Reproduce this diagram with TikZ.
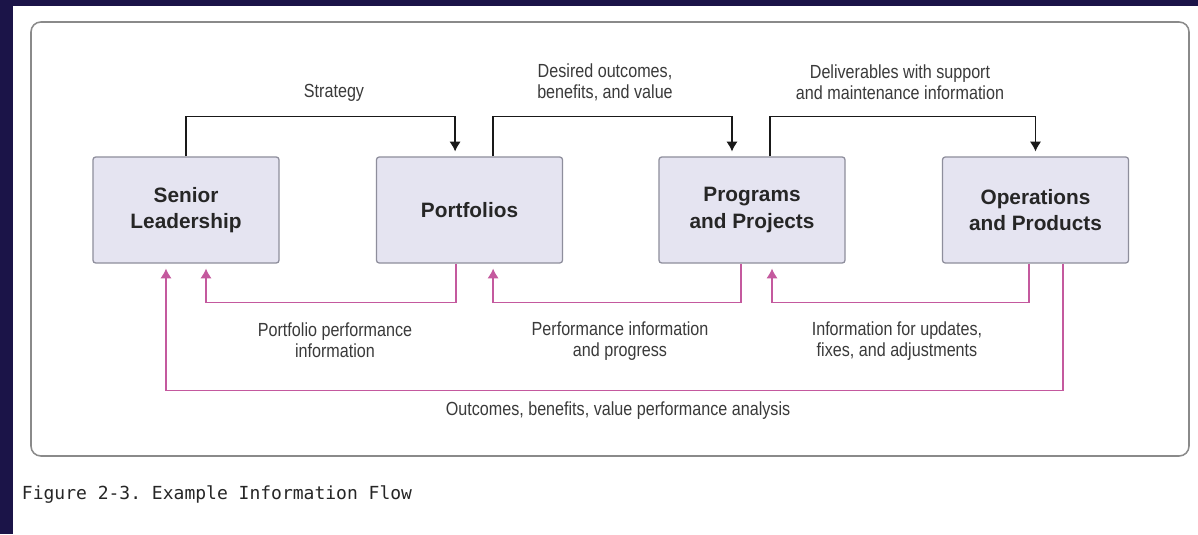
\documentclass[tikz,border=0pt]{standalone}
\usepackage{fontspec}
\setmainfont{Liberation Sans}
\newfontfamily\narrowfont{Liberation Sans}[FakeStretch=0.85]
\setmonofont{DejaVu Sans Mono}
\usetikzlibrary{calc,arrows.meta}

\definecolor{navy}{HTML}{1B1448}
\definecolor{boxfill}{HTML}{E5E4F1}
\definecolor{boxline}{HTML}{8E8E9C}
\definecolor{pinkline}{HTML}{C4599E}
\definecolor{framegray}{HTML}{8A8A8A}
\definecolor{txtgray}{HTML}{3A3A3A}

\tikzset{
  box/.style={draw=boxline,fill=boxfill,line width=0.9pt,rounded corners=2pt,
    minimum width=4.65cm,minimum height=2.65cm,align=center,
    font=\fontsize{14.8}{18.5}\selectfont\bfseries,text=black!85},
  lbl/.style={align=center,font=\narrowfont\fontsize{13.5}{15}\selectfont,text=txtgray},
  topflow/.style={draw=black!90,line width=0.9pt,-{Latex[length=7pt,width=8pt]},shorten >=3.5pt},
  backflow/.style={draw=pinkline,line width=0.9pt,-{Latex[length=7pt,width=8pt]},shorten >=3.5pt},
}

\begin{document}
\begin{tikzpicture}[x=0.025cm,y=-0.025cm]
       \fill[white](0,0)rectangle(1198,534);%背景
       \useasboundingbox(0,0)rectangle(1198,534);
       \fill[navy](0,0)rectangle(1198,6);%上の帯
       \fill[navy](0,0)rectangle(13,534);%左の帯
       \draw[framegray,line width=1.1pt,rounded corners=7pt](31,22)rectangle(1189,456);%外枠

       \node[box](senior)at(186,210){Senior\\Leadership};%箱1
       \node[box](portfolios)at(469.5,210){Portfolios};%箱2
       \node[box](programs)at(752,210){Programs\\and Projects};%箱3
       \node[box](operations)at(1035.5,210){Operations\\and Products};%箱4

       \draw[topflow](senior.north)--++(0,-40)-|([xshift=-0.36cm]portfolios.north);%上の矢印
       \draw[topflow]([xshift=0.59cm]portfolios.north)--++(0,-40)-|([xshift=-0.5cm]programs.north);
       \draw[topflow]([xshift=0.45cm]programs.north)--++(0,-40)-|(operations.north);

       \draw[backflow]([xshift=-0.34cm]portfolios.south)--++(0,39)-|([xshift=0.5cm]senior.south);%下の矢印
       \draw[backflow]([xshift=-0.275cm]programs.south)--++(0,39)-|([xshift=0.59cm]portfolios.south);
       \draw[backflow]([xshift=-0.16cm]operations.south)--++(0,39)-|([xshift=0.5cm]programs.south);
       \draw[backflow]([xshift=0.69cm]operations.south)--++(0,127)-|([xshift=-0.5cm]senior.south);

       \node[lbl](strategy)at(334,93){Strategy};%ラベル
       \node[lbl](desired)at(605,82){Desired outcomes,\\benefits, and value};
       \node[lbl](deliver)at(900,82){Deliverables with support\\and maintenance information};
       \node[lbl](pfinfo)at(335,340){Portfolio performance\\information};
       \node[lbl](perfinfo)at(620,341){Performance information\\and progress};
       \node[lbl](updates)at(897,341){Information for updates,\\fixes, and adjustments};
       \node[lbl](outcomes)at(618,411){Outcomes, benefits, value performance analysis};

       \node[anchor=base west,font=\ttfamily\fontsize{12.8}{15}\selectfont,text=black!85]
           (caption)at(17,499){Figure 2-3. Example Information Flow};%図の題

      \end{tikzpicture}
\end{document}
